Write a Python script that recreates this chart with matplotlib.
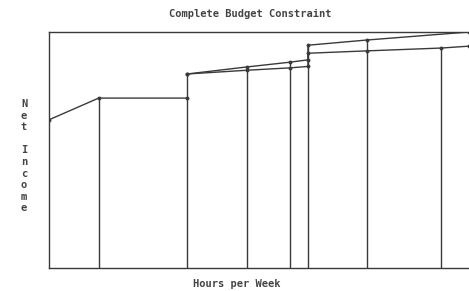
import matplotlib
matplotlib.use("Agg")
import matplotlib.pyplot as plt

# hours of work per week at each kink, net income at each kink
hours_base = [0, 7.1, 19.7]
income_base = [314, 360, 360]

hours_upper = [19.7, 28.3, 34.4, 37.0, 37.0, 45.4, 60.0]
income_upper = [411, 426, 436, 441, 472, 483, 500]

hours_lower = [19.7, 28.3, 34.4, 37.0, 37.0, 45.4, 56.0, 60.0]
income_lower = [411, 419, 424, 427, 455, 460, 466, 470]

# vertical drops from the constraint to the axis
drop_hours = [7.1, 19.7, 28.3, 34.4, 37.0, 45.4, 56.0]
drop_income = [360, 411, 426, 436, 472, 483, 466]

title = "Complete Budget Constraint"
xlabel = "Hours per Week"
ylabel = "Net Income"

ink = "#3a3a3a"
font = dict(family="DejaVu Sans Mono", fontweight="bold", fontsize=7.5, color="#444444")

fig = plt.figure(figsize=(4.69, 2.91), dpi=100)
ax = fig.add_axes([49 / 469, 23 / 291, 420 / 469, 236 / 291])

ax.plot(hours_base, income_base, color=ink, lw=1.0, marker="o", ms=1.8)
ax.plot(hours_upper, income_upper, color=ink, lw=1.0, marker="o", ms=1.8)
ax.plot(hours_lower, income_lower, color=ink, lw=1.0, marker="o", ms=1.8)
ax.vlines(drop_hours, 0, drop_income, color=ink, lw=1.0)

ax.set_xlim(0, 60)
ax.set_ylim(0, 500)
ax.set_xticks([])
ax.set_yticks([])
ax.spines["right"].set_visible(False)
for s in ["left", "bottom", "top"]:
    ax.spines[s].set_color(ink)
    ax.spines[s].set_linewidth(1.0)

fig.text(250 / 469, 1 - 14 / 291, title, ha="center", va="center", **font)
fig.text(237 / 469, 1 - 284 / 291, xlabel, ha="center", va="center", **font)

# stacked vertical y label
y0 = 104
for i, ch in enumerate([c for c in ylabel.replace(" ", "  ")]):
    if i >= 4:
        i = i - 1
    if ch == " ":
        continue
    fig.text(24 / 469, 1 - (y0 + i * 11.6) / 291, ch, ha="center", va="center", **font)

fig.savefig("out.png", dpi=100)
